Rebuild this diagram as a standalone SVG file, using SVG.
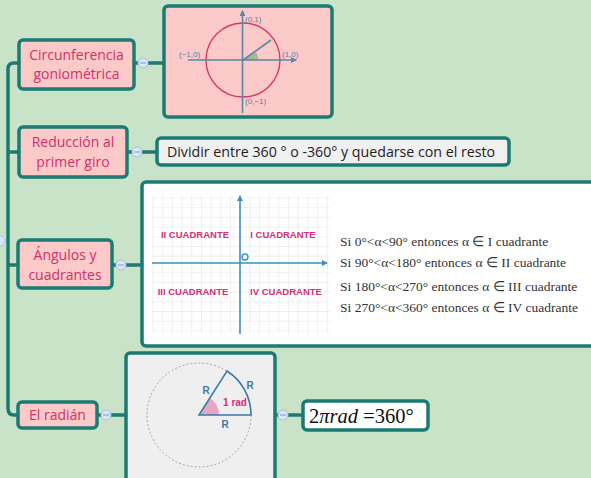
<svg xmlns="http://www.w3.org/2000/svg" width="591" height="478" viewBox="0 0 591 478">
<style>
.node{fill:#fcc9c9;stroke:#1b7b72;stroke-width:3.5}
.box{stroke:#1b7b72;stroke-width:3.5}
.lbl{font-family:"Open Sans","Liberation Sans",sans-serif;font-size:14px;fill:#d0306c;text-anchor:middle}
.con{fill:none;stroke:#1b7b72;stroke-width:3.5}
.col{fill:#d8e6f6;stroke:#a8c0dc;stroke-width:1}
.colm{stroke:#7f9bc0;stroke-width:1}
.ax{stroke:#5a86a6;stroke-width:1.6;fill:none}
.sm{font-family:"Liberation Sans",sans-serif;font-size:8px;fill:#5a7fa0}
.q{font-family:"Liberation Sans",sans-serif;font-size:9.5px;font-weight:bold;fill:#d4307a;text-anchor:middle}
.si{font-family:"Liberation Serif",serif;font-size:13.5px;fill:#333}
.grid{stroke:#e6e6e6;stroke-width:0.6}
.r{font-family:"Liberation Sans",sans-serif;font-size:10px;font-weight:bold;fill:#3c7aa8;text-anchor:middle}
</style>
<defs>
<marker id="ah" markerWidth="6" markerHeight="6" refX="5" refY="3" orient="auto" markerUnits="userSpaceOnUse"><path d="M0,0 L6,3 L0,6 z" fill="#5a86a6"/></marker>
<marker id="ab" markerWidth="6" markerHeight="6" refX="5" refY="3" orient="auto" markerUnits="userSpaceOnUse"><path d="M0,0 L6,3 L0,6 z" fill="#3a8ec4"/></marker>
</defs>
<rect width="591" height="478" fill="#c9e3c9"/>

<g id="connectors">
<path class="con" d="M19,63 H14 Q8,63 8,69 V408 Q8,415 14,415 H18"/>
<path class="con" d="M8,152 H19"/>
<path class="con" d="M8,265 H18"/>
<path class="con" d="M134,63 H164"/>
<path class="con" d="M127,152 H157"/>
<path class="con" d="M112,265 H142"/>
<path class="con" d="M97,415 H126"/>
<path class="con" d="M275,415 H303"/>
<circle class="col" cx="0" cy="241" r="5"/>
<circle class="col" cx="143" cy="63" r="5"/><line class="colm" x1="140" y1="63" x2="146" y2="63"/>
<circle class="col" cx="137" cy="152" r="5"/><line class="colm" x1="134" y1="152" x2="140" y2="152"/>
<circle class="col" cx="121" cy="265" r="5"/><line class="colm" x1="118" y1="265" x2="124" y2="265"/>
<circle class="col" cx="106" cy="415" r="5"/><line class="colm" x1="103" y1="415" x2="109" y2="415"/>
<circle class="col" cx="283" cy="415" r="5"/><line class="colm" x1="280" y1="415" x2="286" y2="415"/>
</g>

<g id="n-circ">
<rect class="node" x="19" y="40" width="115" height="49" rx="4"/>
<text class="lbl" x="76.5" y="60">Circunferencia</text>
<text class="lbl" x="76.5" y="79">goniométrica</text>
</g>

<g id="img-circ">
<rect class="box" x="164" y="6" width="168" height="111" rx="4" fill="#fcc9c9"/>
<path d="M243,60 L258,60 A15,15 0 0 0 256,52 Z" fill="#a9b88e"/>
<circle cx="243" cy="60" r="37" fill="none" stroke="#d8386a" stroke-width="1.4"/>
<line class="ax" x1="188" y1="60" x2="296" y2="60" marker-end="url(#ah)"/>
<line class="ax" x1="242.5" y1="113" x2="242.5" y2="11" marker-end="url(#ah)"/>
<line class="ax" x1="243" y1="60" x2="271" y2="40"/>
<text class="sm" x="245" y="22">(0,1)</text>
<text class="sm" x="282" y="57">(1,0)</text>
<text class="sm" x="179" y="57">(−1,0)</text>
<text class="sm" x="245" y="104">(0,−1)</text>
</g>

<g id="n-red">
<rect class="node" x="19" y="127" width="108" height="50" rx="4"/>
<text class="lbl" x="73" y="147">Reducción al</text>
<text class="lbl" x="73" y="167">primer giro</text>
</g>

<g id="n-div">
<rect class="box" x="157" y="138" width="352" height="27" rx="4" fill="#f0f0f0"/>
<text class="lbl" x="331" y="157" style="fill:#222;font-size:14.2px">Dividir entre 360 ° o -360° y quedarse con el resto</text>
</g>

<g id="n-ang">
<rect class="node" x="18" y="240" width="94" height="48" rx="4"/>
<text class="lbl" x="65" y="260">Ángulos y</text>
<text class="lbl" x="65" y="280">cuadrantes</text>
</g>

<g id="img-ang">
<rect class="box" x="142" y="182" width="460" height="164" rx="4" fill="#ffffff"/>
<g>
<path class="grid" d="M152,198 H330 M152,207.7 H330 M152,217.4 H330 M152,227.1 H330 M152,236.8 H330 M152,246.5 H330 M152,256.2 H330 M152,272.7 H330 M152,282.4 H330 M152,292.1 H330 M152,301.8 H330 M152,311.5 H330 M152,321.2 H330 M152,330.9 H330"/>
<path class="grid" d="M153,195 V334 M162.7,195 V334 M172.4,195 V334 M182.1,195 V334 M191.8,195 V334 M201.5,195 V334 M211.2,195 V334 M220.9,195 V334 M230.6,195 V334 M249.7,195 V334 M259.4,195 V334 M269.1,195 V334 M278.8,195 V334 M288.5,195 V334 M298.2,195 V334 M307.9,195 V334 M317.6,195 V334 M327.3,195 V334"/>
<line x1="152" y1="263" x2="327" y2="263" stroke="#3a8ec4" stroke-width="1.6" marker-end="url(#ab)"/>
<line x1="240" y1="334" x2="240" y2="196" stroke="#3a8ec4" stroke-width="1.6" marker-end="url(#ab)"/>
<circle cx="245" cy="257" r="3" fill="none" stroke="#3a8ec4" stroke-width="1.4"/>
<text class="q" x="195" y="237.5">II CUADRANTE</text>
<text class="q" x="283" y="237.5">I CUADRANTE</text>
<text class="q" x="193" y="294.5">III CUADRANTE</text>
<text class="q" x="286" y="294.5">IV CUADRANTE</text>
</g>
<text class="si" x="340" y="246">Si 0°&lt;α&lt;90° entonces α ∈ I cuadrante</text>
<text class="si" x="340" y="267">Si 90°&lt;α&lt;180° entonces α ∈ II cuadrante</text>
<text class="si" x="340" y="291">Si 180°&lt;α&lt;270° entonces α ∈ III cuadrante</text>
<text class="si" x="340" y="312">Si 270°&lt;α&lt;360° entonces α ∈ IV cuadrante</text>
</g>

<g id="n-rad">
<rect class="node" x="18" y="402" width="79" height="26" rx="4"/>
<text class="lbl" x="57.5" y="420">El radián</text>
</g>

<g id="img-rad">
<rect class="box" x="126" y="353" width="149" height="130" rx="4" fill="#efefef"/>
<circle cx="199" cy="415" r="52" fill="none" stroke="#9a9a9a" stroke-width="0.9" stroke-dasharray="2,2"/>
<path d="M199,415 L219,415 A20,20 0 0 0 210,398 Z" fill="#e7a6c4"/>
<path d="M199,415 L251,415 A52,52 0 0 0 227,371 Z" fill="none" stroke="#3c7aa8" stroke-width="1.6"/>
<text class="r" x="206" y="394">R</text>
<text class="r" x="250" y="389">R</text>
<text class="r" x="225" y="428">R</text>
<text class="r" x="235" y="406" style="fill:#d4307a">1 rad</text>
</g>

<g id="n-form">
<rect class="box" x="303" y="401" width="125" height="29" rx="4" fill="#ffffff"/>
<text x="309" y="423" font-family="Liberation Serif,serif" font-size="20.5" fill="#111">2<tspan font-style="italic">πrad</tspan> =360°</text>
</g>
</svg>
